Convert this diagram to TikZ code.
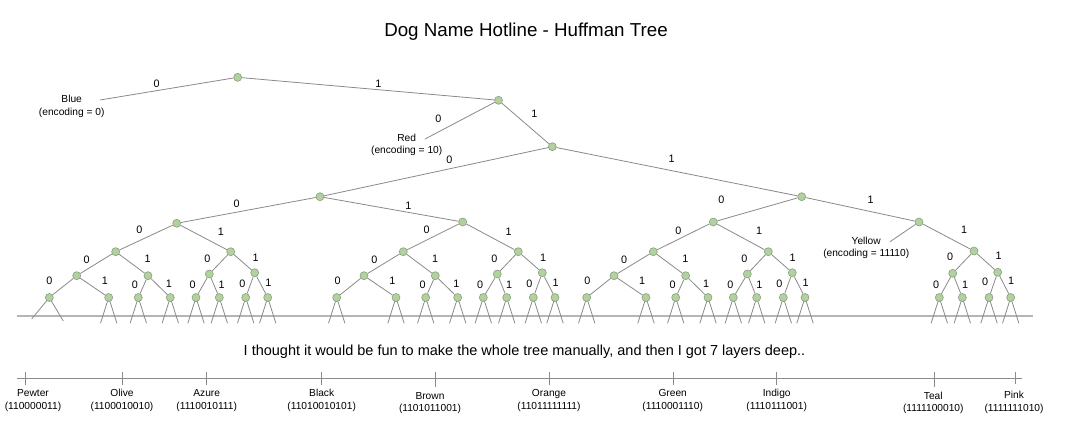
\documentclass[tikz,border=0pt]{standalone}
\usepackage{fontspec}
\setmainfont{Liberation Sans}
\usetikzlibrary{backgrounds}
\definecolor{edgec}{HTML}{8A8A8A}
\definecolor{nfill}{HTML}{B1D19F}
\definecolor{ndraw}{HTML}{8A9F7F}
\definecolor{basec}{HTML}{B5B5B5}
\newcounter{lblc}
\newcommand\elab[3]{\stepcounter{lblc}\node[elbl] (lab\arabic{lblc}) at (#1,#2) {#3};}
\begin{document}
\begin{tikzpicture}[x=1pt,y=-1pt,
  tn/.style={circle, fill=nfill, draw=ndraw, line width=0.6pt, inner sep=0pt, minimum size=8pt},
  ed/.style={draw=edgec, line width=0.8pt},
  elbl/.style={font=\fontsize{10.8}{12}\selectfont, inner sep=0pt},
  leaflbl/.style={font=\fontsize{10.2}{12.4}\selectfont, align=center, inner sep=0pt},
  tick/.style={draw=edgec, line width=0.8pt}]
\useasboundingbox (0,0) rectangle (1065,442);

% title and subtitle
\node[font=\fontsize{18.75}{22}\selectfont] (title) at (526,32) {Dog Name Hotline - Huffman Tree};
\node[font=\fontsize{14.5}{17}\selectfont] (subtitle) at (524.5,352) {I thought it would be fun to make the whole tree manually, and then I got 7 layers deep..};

% upper nodes
\node[tn] (n) at (237.7,77.3) {};
\node[tn] (n1) at (498.5,100.3) {};
\node[tn] (n11) at (552.3,146.7) {};
\node[tn] (n110) at (320,196.7) {};
\node[tn] (n111) at (801.7,196.7) {};
\node[tn] (n1100) at (176.7,223.3) {};
\node[tn] (n1101) at (462.7,222) {};
\node[tn] (n1110) at (713.3,222) {};
\node[tn] (n1111) at (919,222) {};
\node[tn] (n11000) at (115.7,251.7) {};
\node[tn] (n11001) at (230.7,251.7) {};
\node[tn] (n11010) at (403.3,251.7) {};
\node[tn] (n11011) at (518.3,251.7) {};
\node[tn] (n11100) at (653.3,251.7) {};
\node[tn] (n11101) at (768.3,251.7) {};
\node[tn] (n11111) at (974,251) {};
% depth 6
\node[tn] (n110000) at (76.7,275.7) {};
\node[tn] (n110001) at (148,275.7) {};
\node[tn] (n110010) at (209.3,274) {};
\node[tn] (n110011) at (254.7,272.7) {};
\node[tn] (n110100) at (364,275.7) {};
\node[tn] (n110101) at (435.3,275.7) {};
\node[tn] (n110110) at (497.3,274) {};
\node[tn] (n110111) at (542.3,272.7) {};
\node[tn] (n111000) at (614,275.7) {};
\node[tn] (n111001) at (685.7,275.7) {};
\node[tn] (n111010) at (747.3,274) {};
\node[tn] (n111011) at (792.3,272.7) {};
\node[tn] (n111110) at (952.7,273.3) {};
\node[tn] (n111111) at (997.7,272.3) {};
% depth 7
\foreach \nm/\xx in {1100000/49.3,1100001/108.7,1100010/138.3,1100011/170.3,1100100/196,1100101/219.3,1100110/245.7,1100111/267.7,
  1101000/336.7,1101001/396,1101010/425.7,1101011/457.7,1101100/483.3,1101101/506.7,1101110/533.3,1101111/555,
  1110000/586.7,1110001/646,1110010/675.7,1110011/708,1110100/733.3,1110101/756.7,1110110/783.3,1110111/805,
  1111100/939.3,1111101/962.3,1111110/989,1111111/1010.7}
  {\node[tn] (n\nm) at (\xx,297.5) {};}

% leaf labels
\coordinate (bl) at (100,100);
\node[leaflbl] (blue) at (71.7,106.2) {Blue\\(encoding = 0)};
\coordinate (rd) at (425,139);
\node[leaflbl] (red) at (406.7,145) {Red\\(encoding = 10)};
\coordinate (yl) at (890,241.7);
\node[leaflbl] (yellow) at (866.2,248) {Yellow\\(encoding = 11110)};

\begin{scope}[on background layer]
\fill[white] (0,0) rectangle (1065,442);
% base line
\coordinate (hl1) at (16.7,316);
\coordinate (hl2) at (1032.7,316);
\draw[draw=basec, line width=1.4pt] (hl1) -- (hl2);
% edges
\draw[ed] (n) -- (bl);
\draw[ed] (n) -- (n1);
\draw[ed] (n1) -- (rd);
\draw[ed] (n1) -- (n11);
\draw[ed] (n11) -- (n110);
\draw[ed] (n11) -- (n111);
\draw[ed] (n110) -- (n1100);
\draw[ed] (n110) -- (n1101);
\draw[ed] (n111) -- (n1110);
\draw[ed] (n111) -- (n1111);
\draw[ed] (n1111) -- (yl);
\draw[ed] (n1111) -- (n11111);
\foreach \p in {1100,1101,1110}{
  \draw[ed] (n\p) -- (n\p0);
  \draw[ed] (n\p) -- (n\p1);
  \foreach \q in {0,1}{
    \draw[ed] (n\p\q) -- (n\p\q0);
    \draw[ed] (n\p\q) -- (n\p\q1);
    \foreach \r in {0,1}{
      \draw[ed] (n\p\q\r) -- (n\p\q\r0);
      \draw[ed] (n\p\q\r) -- (n\p\q\r1);
    }
  }
}
\draw[ed] (n11111) -- (n111110);
\draw[ed] (n11111) -- (n111111);
\foreach \q in {0,1}{
  \draw[ed] (n11111\q) -- (n11111\q0);
  \draw[ed] (n11111\q) -- (n11111\q1);
}
% stubs below the deepest nodes
\draw[ed] (n1100000.center) -- ++(-17.6,21.5);
\draw[ed] (n1100000.center) -- ++(14,23.5);
\foreach \nm in {1100001,1100010,1100011,1100100,1100101,1100110,1100111,
  1101000,1101001,1101010,1101011,1101100,1101101,1101110,1101111,
  1110000,1110001,1110010,1110011,1110100,1110101,1110110,1110111,
  1111100,1111101,1111110,1111111}
  {\draw[ed] (n\nm.center) -- ++(-8.2,25.8);
   \draw[ed] (n\nm.center) -- ++(8.2,25.8);}
\end{scope}

% edge labels
\elab{156.7}{83.3}{0}
\elab{378.3}{83.3}{1}
\elab{438.3}{118.3}{0}
\elab{534.3}{114}{1}
\elab{449.3}{160}{0}
\elab{671.7}{158.3}{1}
\elab{236.7}{204}{0}
\elab{408.3}{205.7}{1}
\elab{721.3}{200}{0}
\elab{870.7}{200}{1}
\elab{964}{230}{1}
\elab{950}{256.7}{0}
\elab{998.7}{255.7}{1}
\elab{936}{284.3}{0}
\elab{965}{284.3}{1}
\elab{985}{281.7}{0}
\elab{1011}{280.7}{1}
% subtree 1100
\elab{139.3}{229.3}{0}
\elab{221}{231.7}{1}
\elab{86.7}{259.3}{0}
\elab{147.7}{258.3}{1}
\elab{207.3}{258.3}{0}
\elab{255.7}{257.7}{1}
\elab{49.3}{281}{0}
\elab{105}{281}{1}
\elab{135}{284.3}{0}
\elab{169}{283.3}{1}
\elab{192.7}{284.3}{0}
\elab{221.7}{285}{1}
\elab{242.3}{283.3}{0}
\elab{268.3}{282.3}{1}
% subtree 1101
\elab{426.7}{229.3}{0}
\elab{508.7}{231.7}{1}
\elab{374.3}{259.3}{0}
\elab{435}{258.3}{1}
\elab{494.3}{258.3}{0}
\elab{543}{257.7}{1}
\elab{337.7}{281}{0}
\elab{392.3}{281}{1}
\elab{422.7}{284.3}{0}
\elab{456.3}{283.3}{1}
\elab{480}{284.3}{0}
\elab{509}{285}{1}
\elab{529.3}{283.3}{0}
\elab{555.7}{282.3}{1}
% subtree 1110
\elab{678.3}{231}{0}
\elab{759}{231}{1}
\elab{624}{259.3}{0}
\elab{685.3}{258.3}{1}
\elab{744.3}{258.3}{0}
\elab{792.7}{257.3}{1}
\elab{587.3}{281}{0}
\elab{642}{281}{1}
\elab{672.7}{284.3}{0}
\elab{706}{283.3}{1}
\elab{730.3}{284.3}{0}
\elab{759.3}{285}{1}
\elab{779.3}{283.3}{0}
\elab{805.7}{282.3}{1}

% timeline
\coordinate (tl1) at (16.7,378.3);
\coordinate (tl2) at (1021.7,378.3);
\draw[tick] (tl1) -- (tl2);
\foreach \tx/\lx/\ty/\ly/\nm/\cd/\id in {
  25.7/33/385/400.5/Pewter/110000011/pewter,
  122.3/122/385/400.5/Olive/1100010010/olive,
  206.7/206.7/385/400.5/Azure/1110010111/azure,
  321.7/321.7/385/400.5/Black/11010010101/black,
  435/430/387/402.9/Brown/1101011001/brown,
  549.3/549/385/400.5/Orange/11011111111/orange,
  673.3/672.7/385/400.5/Green/1110001110/green,
  776.7/776.7/385/400.5/Indigo/1110111001/indigo,
  934/933.3/387/402.9/Teal/1111100010/teal,
  1015/1014/384/402.3/Pink/1111111010/pink}
{
  \coordinate (t\id a) at (\tx,371.7);
  \coordinate (t\id b) at (\tx,\ty);
  \draw[tick] (t\id a) -- (t\id b);
  \node[leaflbl] (lbl\id) at (\lx,\ly) {\nm\\(\cd)};
}
\end{tikzpicture}
\end{document}
